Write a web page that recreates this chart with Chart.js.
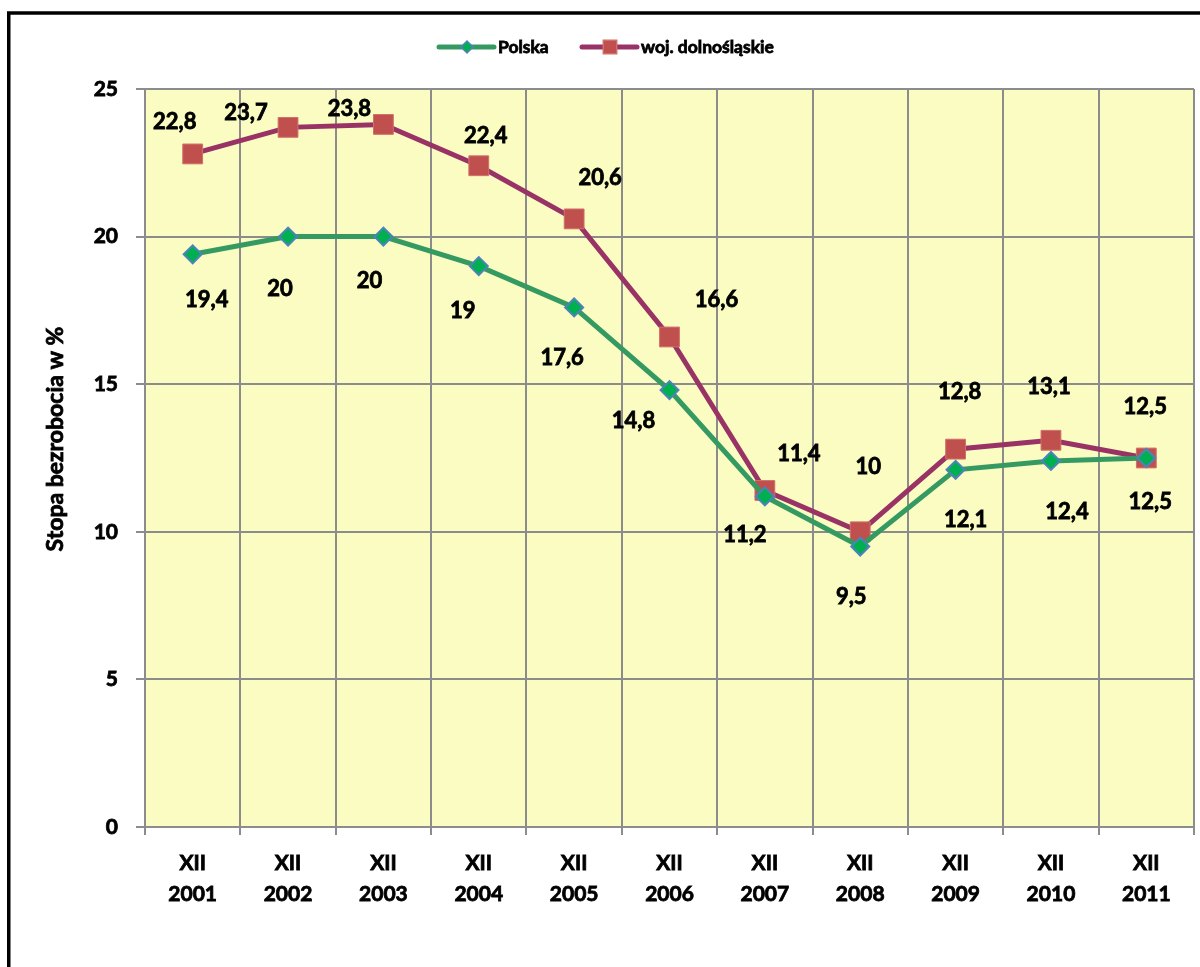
<!DOCTYPE html>
<html>
<head>
<meta charset="utf-8">
<script src="https://cdn.jsdelivr.net/npm/chart.js@4.4.1/dist/chart.umd.min.js"></script>
<style>
  html, body { margin: 0; padding: 0; background: #fff; overflow: hidden; }
  canvas { display: block; }
</style>
</head>
<body>
<canvas id="chart" width="1200" height="967"></canvas>
<script>
// data
const month = "XII";
const years = ["2001", "2002", "2003", "2004", "2005", "2006", "2007", "2008", "2009", "2010", "2011"];
const polska = [19.4, 20, 20, 19, 17.6, 14.8, 11.2, 9.5, 12.1, 12.4, 12.5];
const dolnoslaskie = [22.8, 23.7, 23.8, 22.4, 20.6, 16.6, 11.4, 10, 12.8, 13.1, 12.5];
const yMin = 0, yMax = 25, yStep = 5;
const yTitle = "Stopa bezrobocia w %";

// label placement (px, relative to the point)
const polskaLabelOffsets = [[14, 46], [-8, 52], [-14, 44], [-16, 45], [-12, 50], [-36, 31], [-20, 39], [-9, 50], [10, 50], [16, 51], [4, 44]];
const dolnoLabelOffsets = [[-18, -32], [-42, -14], [-34, -16], [7, -30], [26, -41], [47, -37], [34, -37], [8, -65], [4, -57], [-2, -53], [-1, -51]];

const GRID = "#8c8c8c";
const FONT = "Lato";
const STROKE = 0.8; // makes Lato bold look closer to the heavier original
Chart.defaults.font.family = FONT;
Chart.defaults.color = "#000";

const fmt = (v) => String(v).replace(".", ",");

function boldText(ctx, text, x, y) {
  ctx.fillText(text, x, y);
  ctx.lineWidth = STROKE;
  ctx.strokeStyle = "#000";
  ctx.strokeText(text, x, y);
}

// ✅ Background, frame, axis title, legend and value labels
const decorPlugin = {
  id: "decor",
  beforeDraw(chart) {
    const { ctx, chartArea: a } = chart;
    ctx.save();
    ctx.fillStyle = "#fff";
    ctx.fillRect(0, 0, chart.width, chart.height);
    ctx.fillStyle = "#fafcc2";
    ctx.fillRect(a.left, a.top, a.right - a.left, a.bottom - a.top);
    ctx.restore();
  },
  afterDatasetsDraw(chart) {
    const { ctx } = chart;
    ctx.save();
    ctx.font = "bold 22px " + FONT;
    ctx.fillStyle = "#000";
    ctx.textAlign = "center";
    ctx.textBaseline = "middle";
    const offs = [polskaLabelOffsets, dolnoLabelOffsets];
    chart.data.datasets.forEach((ds, di) => {
      const meta = chart.getDatasetMeta(di);
      meta.data.forEach((pt, i) => {
        const [dx, dy] = offs[di][i];
        boldText(ctx, fmt(ds.data[i]), pt.x + dx, pt.y + dy);
      });
    });
    ctx.restore();
  },
  afterDraw(chart) {
    const { ctx } = chart;
    ctx.save();
    // y axis title
    ctx.font = "bold 23px " + FONT;
    ctx.fillStyle = "#000";
    ctx.textAlign = "center";
    ctx.textBaseline = "middle";
    ctx.translate(56, 439);
    ctx.rotate(-Math.PI / 2);
    boldText(ctx, yTitle, 0, 0);
    ctx.restore();

    // legend
    ctx.save();
    const ly = 47;
    const items = [
      { x: 439, ds: chart.data.datasets[0], style: "rectRot", r: 6 },
      { x: 582, ds: chart.data.datasets[1], style: "rect", r: 9.5 },
    ];
    ctx.font = "bold 17.5px " + FONT;
    ctx.textBaseline = "middle";
    items.forEach((it) => {
      ctx.strokeStyle = it.ds.borderColor;
      ctx.lineWidth = 5;
      ctx.lineCap = "round";
      ctx.beginPath();
      ctx.moveTo(it.x, ly);
      ctx.lineTo(it.x + 55, ly);
      ctx.stroke();
      ctx.fillStyle = it.ds.pointBackgroundColor;
      ctx.strokeStyle = it.ds.pointBorderColor;
      ctx.lineWidth = 1.5;
      Chart.helpers.drawPoint(ctx, { pointStyle: it.style, radius: it.r, borderWidth: 1.5 }, it.x + 28, ly);
      ctx.fillStyle = "#000";
      ctx.textAlign = "left";
      boldText(ctx, it.ds.label, it.x + 59, ly);
    });
    ctx.restore();

    // outer frame
    ctx.save();
    ctx.strokeStyle = "#000";
    ctx.lineWidth = 3.5;
    ctx.strokeRect(8.75, 13, 1400, 1200);
    ctx.restore();
  },
};

new Chart(document.getElementById("chart"), {
  type: "line",
  data: {
    labels: years.map((y) => [month, y]),
    datasets: [
      {
        label: "Polska",
        data: polska,
        borderColor: "#349a62",
        borderWidth: 5,
        pointStyle: "rectRot",
        pointRadius: 9,
        pointBackgroundColor: "#00b050",
        pointBorderColor: "#4f81bd",
        pointBorderWidth: 2,
        tension: 0,
      },
      {
        label: "woj. dolnośląskie",
        data: dolnoslaskie,
        borderColor: "#993366",
        borderWidth: 5,
        pointStyle: "rect",
        pointRadius: 14,
        pointBackgroundColor: "#c0504d",
        pointBorderColor: "#d0706a",
        pointBorderWidth: 1,
        tension: 0,
      },
    ],
  },
  options: {
    responsive: false,
    animation: false,
    events: [],
    layout: { autoPadding: false, padding: { top: 89, right: 6, left: 0, bottom: 0 } },
    plugins: {
      legend: { display: false },
      tooltip: { enabled: false },
    },
    scales: {
      x: {
        offset: true,
        grid: {
          offset: true,
          color: GRID,
          lineWidth: 2,
          tickLength: 8,
          tickColor: GRID,
        },
        border: { color: GRID, width: 2 },
        ticks: {
          font: { size: 21, weight: "bold", lineHeight: 1.5 },
          color: "#000",
          textStrokeColor: "#000",
          textStrokeWidth: STROKE,
          padding: 12,
          maxRotation: 0,
          autoSkip: false,
        },
        afterFit(scale) {
          scale.height = 140;
          scale.paddingLeft = 0;
          scale.paddingRight = 0;
        },
      },
      y: {
        min: yMin,
        max: yMax,
        grid: {
          color: GRID,
          lineWidth: 2,
          tickLength: 9,
          tickColor: GRID,
        },
        border: { color: GRID, width: 2 },
        ticks: {
          stepSize: yStep,
          font: { size: 21, weight: "bold" },
          color: "#000",
          textStrokeColor: "#000",
          textStrokeWidth: STROKE,
          padding: 18,
        },
        afterFit(scale) { scale.width = 145; },
      },
    },
  },
  plugins: [decorPlugin],
});
</script>
</body>
</html>
